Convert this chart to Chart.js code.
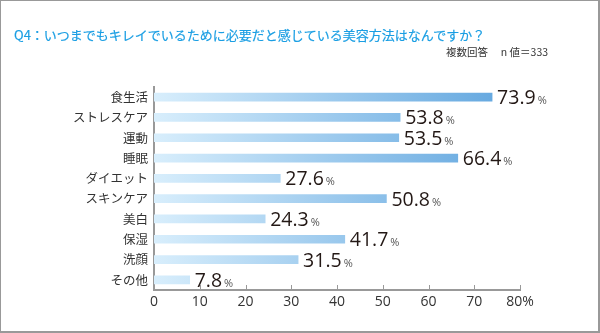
<!DOCTYPE html>
<html>
<head>
<meta charset="utf-8">
<script src="https://cdn.jsdelivr.net/npm/chart.js@4"></script>
<style>
  html, body { margin: 0; padding: 0; background: #fff; }
  #wrap { position: relative; width: 600px; height: 333px; box-sizing: border-box; border: 1px solid #999; border-right-width: 2px; border-bottom-width: 2px; }
  #chart { position: absolute; left: -1px; top: -1px; }
  #title { position: absolute; left: 13px; top: 24px; font: 13px "Noto Sans CJK JP", sans-serif; color: #1a9ee3; white-space: nowrap; -webkit-text-stroke: 0.2px #1a9ee3; }
  #note { position: absolute; left: 445px; top: 43px; font: 10.5px "Noto Sans CJK JP", sans-serif; color: #333; white-space: nowrap; }
</style>
</head>
<body>
<div id="wrap">
  <canvas id="chart" width="600" height="333"></canvas>
  <div id="title">Q4：いつまでもキレイでいるために必要だと感じている美容方法はなんですか？</div>
  <div id="note">複数回答　 n 値＝333</div>
</div>
<script>
var categories = ['食生活', 'ストレスケア', '運動', '睡眠', 'ダイエット', 'スキンケア', '美白', '保湿', '洗顔', 'その他'];
var percents = [73.9, 53.8, 53.5, 66.4, 27.6, 50.8, 24.3, 41.7, 31.5, 7.8];
var tickValues = [0, 10, 20, 30, 40, 50, 60, 70, 80];

var jpFont = '"Noto Sans CJK JP", sans-serif';

// gradient spans the whole plot width, light on the left
function barFill(context) {
    var area = context.chart.chartArea;
    if (!area) return '#9cc8ec';
    var g = context.chart.ctx.createLinearGradient(area.left, 0, area.right, 0);
    g.addColorStop(0, '#d8eefc');
    g.addColorStop(1, '#5ea4de');
    return g;
}

var valueLabels = {
    id: 'valueLabels',
    afterDatasetsDraw: function(chart) {
        var ctx = chart.ctx;
        var meta = chart.getDatasetMeta(0);
        ctx.save();
        ctx.textBaseline = 'alphabetic';
        meta.data.forEach(function(bar, i) {
            var txt = percents[i].toFixed(1);
            var x = bar.x + 5;
            var y = bar.y + 7;
            ctx.font = '19.5px "Open Sans", sans-serif';
            ctx.fillStyle = '#231815';
            ctx.fillText(txt, x, y);
            var w = ctx.measureText(txt).width;
            ctx.font = '11px "Open Sans", sans-serif';
            ctx.fillStyle = '#555';
            ctx.fillText('%', x + w + 2, y);
        });
        ctx.restore();
    }
};

// small tick marks pointing up into the plot
var upTicks = {
    id: 'upTicks',
    afterDraw: function(chart) {
        var ctx = chart.ctx;
        var xs = chart.scales.x;
        var bottom = chart.chartArea.bottom;
        ctx.save();
        ctx.strokeStyle = '#999';
        ctx.lineWidth = 1;
        tickValues.forEach(function(v) {
            if (v === 0) return;
            var px = Math.round(xs.getPixelForValue(v)) + 0.5;
            ctx.beginPath();
            ctx.moveTo(px, bottom);
            ctx.lineTo(px, bottom - 5);
            ctx.stroke();
        });
        ctx.restore();
    }
};

new Chart(document.getElementById('chart'), {
    type: 'bar',
    data: {
        labels: categories,
        datasets: [{
            data: percents,
            backgroundColor: barFill,
            borderWidth: 0,
            barThickness: 8
        }]
    },
    options: {
        indexAxis: 'y',
        responsive: false,
        animation: false,
        events: [],
        layout: { padding: { top: 87, right: 80, left: 0, bottom: 0 } },
        plugins: { legend: { display: false }, tooltip: { enabled: false } },
        scales: {
            x: {
                min: 0,
                max: 80,
                afterFit: function(s) { s.height = 43; },
                afterBuildTicks: function(s) { s.ticks = tickValues.map(function(v) { return { value: v }; }); },
                grid: { display: false, drawTicks: false },
                border: { display: true, color: '#999', width: 2 },
                ticks: {
                    padding: 4,
                    color: '#333',
                    font: { family: '"Open Sans", sans-serif', size: 14 },
                    callback: function(v) { return v === 80 ? '80%' : v; }
                }
            },
            y: {
                afterFit: function(s) { s.width = 154; },
                grid: { display: false, drawTicks: false },
                border: { display: true, color: '#999', width: 2 },
                ticks: {
                    padding: 6,
                    color: '#333',
                    font: { family: jpFont, size: 12.5 }
                }
            }
        }
    },
    plugins: [valueLabels, upTicks]
});
</script>
</body>
</html>
